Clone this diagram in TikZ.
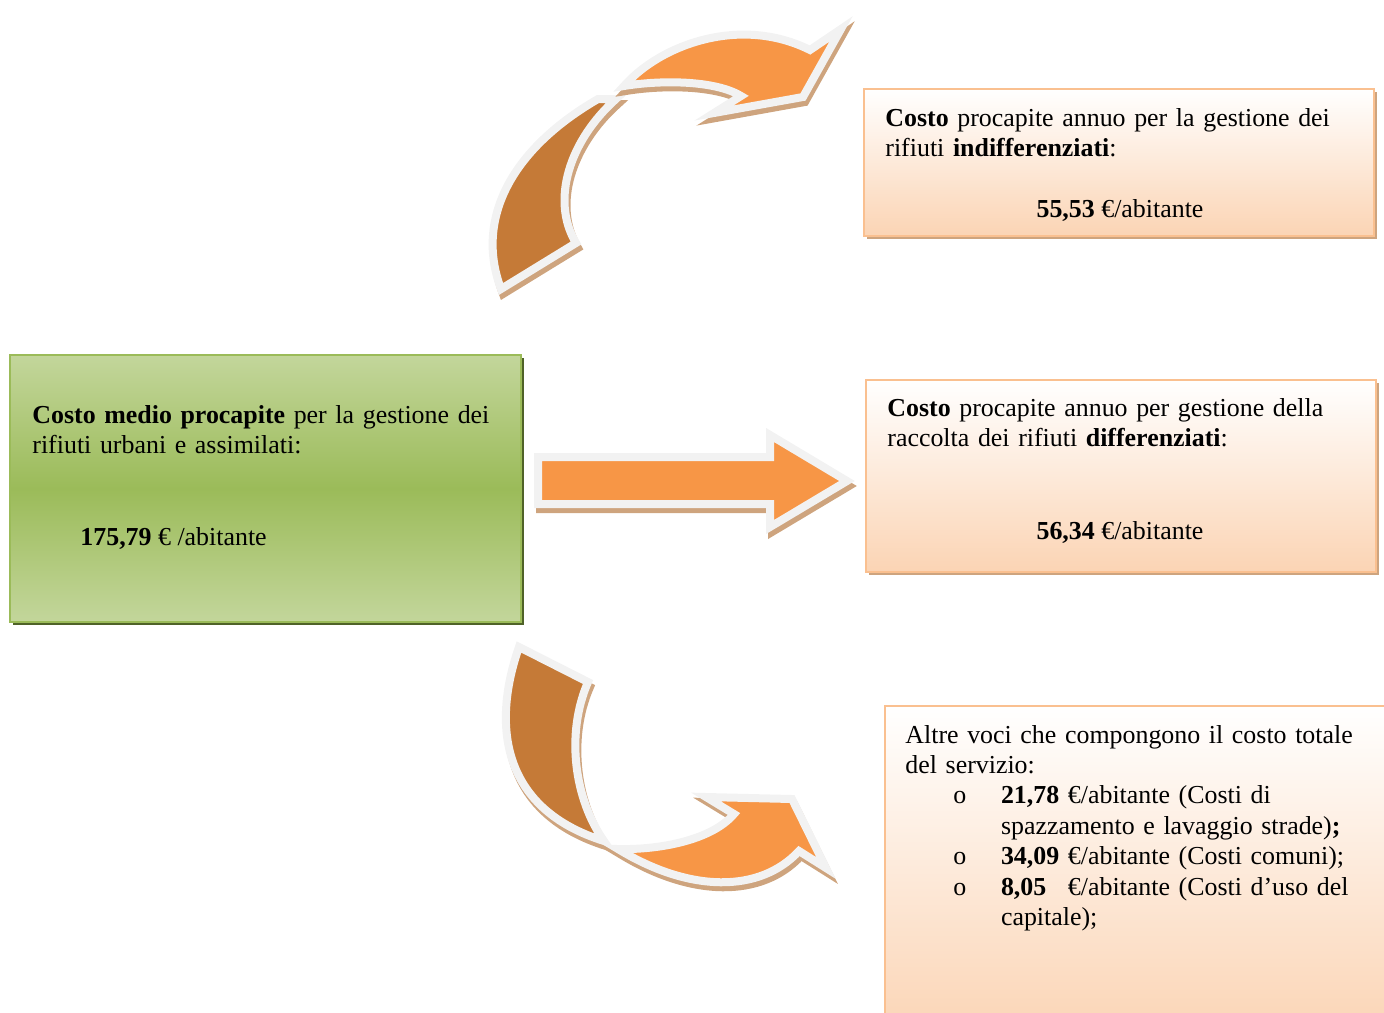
\documentclass[tikz,border=0pt]{standalone}
\usepackage{fontspec}
\setmainfont{Liberation Serif}
\usetikzlibrary{fit,shadows}
\definecolor{glt}{RGB}{195,214,155}
\definecolor{gmd}{RGB}{155,187,89}
\definecolor{gsh}{RGB}{79,98,40}
\definecolor{pch}{RGB}{251,212,180}
\definecolor{pcb}{RGB}{250,192,144}
\definecolor{tn}{RGB}{206,164,126}
\definecolor{org}{RGB}{247,150,70}
\definecolor{drk}{RGB}{197,122,55}
\definecolor{wln}{RGB}{242,242,242}
\tikzset{gbox/.style={draw=gmd,line width=1.4pt,top color=glt,bottom color=glt,middle color=gmd,inner sep=0pt,
   general shadow={fill=gsh,shadow xshift=1.5pt,shadow yshift=-1.5pt}},
 obox/.style={draw=pcb,line width=1.2pt,top color=white,bottom color=pch,inner sep=0pt,
   general shadow={fill=tn,shadow xshift=1.5pt,shadow yshift=-1.5pt}},
 arw/.style={fill=org,draw=wln,line width=4pt,line join=miter,
   general shadow={fill=tn,draw=tn,line width=4pt,shadow xshift=1pt,shadow yshift=-2.5pt}},
 dk/.style={arw,fill=drk},
 txt/.style={anchor=base west,inner sep=0pt,text width=240pt,align=left},
 val/.style={anchor=base,inner sep=0pt},
 every node/.style={font=\fontsize{12.95}{15.2}\selectfont}}
\begin{document}
\begin{tikzpicture}[x=0.5pt,y=-0.5pt]
\useasboundingbox (0,0) rectangle (1384,1012);
\clip (0,0) rectangle (1384,1012);
% boxes
\node[gbox,fit={(10,355)(521,622)}] (tot) {};
\node[obox,fit={(864,89)(1374,236)}] (ind) {};
\node[obox,fit={(866,380)(1376,572)}] (dif) {};
\node[obox,fit={(885,706)(1420,1040)}] (alt) {};
% arrows
\path[dk] (501,289) .. controls (475,220) and (510,150) .. (598,99) -- (616,99)
  .. controls (570,140) and (550,200) .. (576,243) -- cycle;
\path[arw] (624,86) .. controls (660,45) and (740,15) .. (810,50) -- (841,29) -- (803,97)
  -- (714,113) -- (741,96) .. controls (715,80) and (660,80) .. (624,86) -- cycle;
\path[arw] (538,457) -- (770,457) -- (770,435) -- (847,481) -- (770,527) -- (770,504) -- (538,504) -- cycle;
\path[dk] (519,647) .. controls (490,730) and (505,810) .. (604,841)
  .. controls (575,800) and (565,735) .. (588,682) -- cycle;
\path[arw] (618,849) .. controls (660,850) and (712,840) .. (734,814) -- (706,797) -- (792,799)
  -- (826,868) -- (799,851) .. controls (760,893) and (690,893) .. (618,849) -- cycle;
% texts
\node[txt] (totx) at (32,423) {\textbf{Costo medio procapite} per la gestione dei\\rifiuti urbani e assimilati:};
\node[val,anchor=base west] (totv) at (80,545) {\textbf{175,79} € /abitante};
\node[txt] (indx) at (885,126) {\textbf{Costo} procapite annuo per la gestione dei\\rifiuti \textbf{indifferenziati}:};
\node[val] (indv) at (1120,217) {\textbf{55,53} €/abitante};
\node[txt] (difx) at (887,416) {\textbf{Costo} procapite annuo per gestione della\\raccolta dei rifiuti \textbf{differenziati}:};
\node[val] (difv) at (1120,539) {\textbf{56,34} €/abitante};
\node[txt] (altx) at (905,743) {Altre voci che compongono il costo totale\\del servizio:\par
 \hangindent=47.8pt\hangafter=1\makebox[47.8pt][l]{\hspace{24pt}o}\textbf{21,78} €/abitante (Costi di\newline spazzamento e lavaggio strade)\textbf{;}\par
 \hangindent=47.8pt\hangafter=1\makebox[47.8pt][l]{\hspace{24pt}o}\textbf{34,09} €/abitante (Costi comuni);\par
 \hangindent=47.8pt\hangafter=1\makebox[47.8pt][l]{\hspace{24pt}o}\textbf{8,05\phantom{0}} €/abitante (Costi d’uso del\newline capitale);\par};
\end{tikzpicture}
\end{document}
